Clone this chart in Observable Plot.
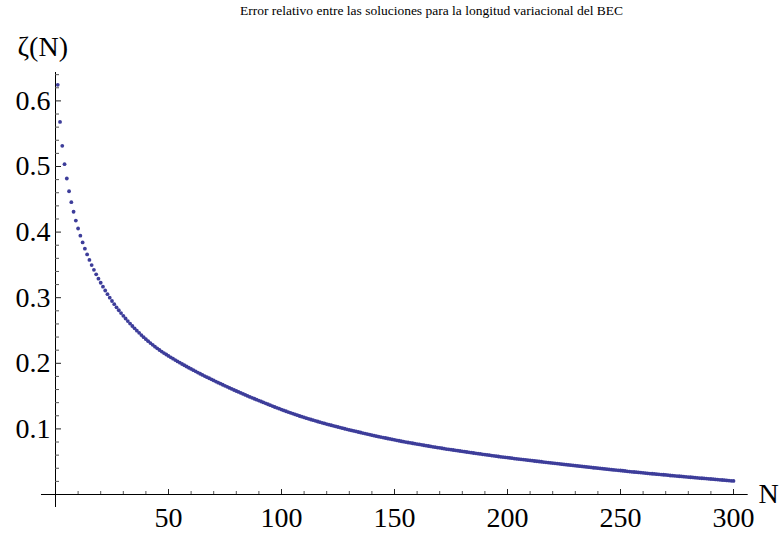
<!DOCTYPE html>
<html>
<head>
<meta charset="utf-8">
<script src="https://cdn.jsdelivr.net/npm/d3@7"></script>
<script src="https://cdn.jsdelivr.net/npm/@observablehq/plot@0.6"></script>
<style>
  body { margin: 0; background: #fff; }
  #chart { position: relative; width: 783px; height: 536px; }
  #title { position: absolute; top: 3px; left: 40px; width: 783px; text-align: center;
           font: 13.5px "Liberation Serif", "Times New Roman", serif; color: #000; }
</style>
</head>
<body>
<div id="chart"><div id="title">Error relativo entre las soluciones para la longitud variacional del BEC</div></div>
<script>
// ζ(N) values, N = 1 … 300
const zeta = [
  0.6245, 0.5680, 0.5315, 0.5035, 0.4817, 0.4623, 0.4456, 0.4310, 0.4176, 0.4055,
  0.3946, 0.3843, 0.3748, 0.3660, 0.3576, 0.3498, 0.3425, 0.3356, 0.3290, 0.3228,
  0.3168, 0.3110, 0.3054, 0.3001, 0.2950, 0.2901, 0.2854, 0.2809, 0.2766, 0.2724,
  0.2683, 0.2644, 0.2606, 0.2569, 0.2533, 0.2498, 0.2464, 0.2431, 0.2399, 0.2368,
  0.2338, 0.2309, 0.2281, 0.2254, 0.2228, 0.2203, 0.2179, 0.2156, 0.2134, 0.2113,
  0.2091, 0.2070, 0.2049, 0.2029, 0.2009, 0.1989, 0.1970, 0.1951, 0.1932, 0.1914,
  0.1895, 0.1877, 0.1859, 0.1841, 0.1823, 0.1806, 0.1789, 0.1772, 0.1755, 0.1739,
  0.1722, 0.1705, 0.1689, 0.1673, 0.1657, 0.1641, 0.1625, 0.1609, 0.1593, 0.1578,
  0.1563, 0.1548, 0.1533, 0.1518, 0.1503, 0.1488, 0.1474, 0.1460, 0.1446, 0.1432,
  0.1418, 0.1404, 0.1390, 0.1376, 0.1362, 0.1348, 0.1334, 0.1321, 0.1308, 0.1295,
  0.1282, 0.1269, 0.1257, 0.1245, 0.1233, 0.1221, 0.1209, 0.1197, 0.1186, 0.1175,
  0.1164, 0.1153, 0.1143, 0.1133, 0.1123, 0.1113, 0.1103, 0.1093, 0.1083, 0.1074,
  0.1065, 0.1056, 0.1047, 0.1038, 0.1029, 0.1020, 0.1011, 0.1002, 0.0993, 0.0985,
  0.0977, 0.0969, 0.0961, 0.0953, 0.0945, 0.0937, 0.0929, 0.0921, 0.0913, 0.0905,
  0.0897, 0.0889, 0.0882, 0.0875, 0.0868, 0.0861, 0.0854, 0.0847, 0.0840, 0.0833,
  0.0826, 0.0819, 0.0812, 0.0805, 0.0799, 0.0793, 0.0787, 0.0781, 0.0775, 0.0769,
  0.0763, 0.0757, 0.0751, 0.0745, 0.0739, 0.0733, 0.0727, 0.0721, 0.0716, 0.0711,
  0.0705, 0.0699, 0.0693, 0.0688, 0.0683, 0.0678, 0.0673, 0.0668, 0.0663, 0.0658,
  0.0653, 0.0648, 0.0643, 0.0638, 0.0633, 0.0628, 0.0623, 0.0618, 0.0613, 0.0609,
  0.0604, 0.0599, 0.0594, 0.0589, 0.0584, 0.0579, 0.0575, 0.0571, 0.0567, 0.0563,
  0.0558, 0.0553, 0.0548, 0.0544, 0.0540, 0.0536, 0.0532, 0.0528, 0.0524, 0.0520,
  0.0515, 0.0511, 0.0507, 0.0503, 0.0499, 0.0495, 0.0491, 0.0487, 0.0483, 0.0479,
  0.0475, 0.0471, 0.0467, 0.0463, 0.0459, 0.0455, 0.0451, 0.0447, 0.0443, 0.0440,
  0.0436, 0.0432, 0.0428, 0.0424, 0.0420, 0.0416, 0.0412, 0.0408, 0.0405, 0.0402,
  0.0398, 0.0394, 0.0390, 0.0386, 0.0382, 0.0378, 0.0375, 0.0372, 0.0369, 0.0366,
  0.0362, 0.0358, 0.0354, 0.0350, 0.0346, 0.0343, 0.0340, 0.0337, 0.0334, 0.0331,
  0.0327, 0.0323, 0.0319, 0.0316, 0.0313, 0.0310, 0.0307, 0.0304, 0.0301, 0.0298,
  0.0294, 0.0290, 0.0287, 0.0284, 0.0281, 0.0278, 0.0275, 0.0272, 0.0269, 0.0266,
  0.0263, 0.0260, 0.0257, 0.0254, 0.0251, 0.0248, 0.0245, 0.0242, 0.0239, 0.0236,
  0.0233, 0.0230, 0.0227, 0.0224, 0.0221, 0.0218, 0.0215, 0.0212, 0.0209, 0.0207
];
const nValues = zeta.map((_, i) => i + 1);

const xMajor = [50, 100, 150, 200, 250, 300];
const xMinor = [10, 20, 30, 40, 60, 70, 80, 90, 110, 120, 130, 140, 160, 170, 180, 190,
                210, 220, 230, 240, 260, 270, 280, 290];
const yMajor = [0.1, 0.2, 0.3, 0.4, 0.5, 0.6];
const yMajorLabels = ["0.1", "0.2", "0.3", "0.4", "0.5", "0.6"];
const yMinor = [0.02, 0.04, 0.06, 0.08, 0.12, 0.14, 0.16, 0.18, 0.22, 0.24, 0.26, 0.28,
                0.32, 0.34, 0.36, 0.38, 0.42, 0.44, 0.46, 0.48, 0.52, 0.54, 0.56, 0.58,
                0.62, 0.64];
const yAxisLabel = "ζ(N)";
const xAxisLabel = "N";

const table = nValues.map((n, i) => ({N: n, z: zeta[i]}));

const W = 783, H = 536;
const mL = 55, mR = 50, mT = 72, mB = 42;
const frameW = W - mL - mR, frameH = H - mT - mB;
const font = "'Liberation Serif', 'Times New Roman', serif";
const dotColor = "#3d3d9a";

const chart = Plot.plot({
  width: W, height: H,
  marginLeft: mL, marginRight: mR, marginTop: mT, marginBottom: mB,
  x: {domain: [0, 300]},
  y: {domain: [0, 0.6433]},
  style: {fontFamily: font, background: "transparent", color: "#000"},
  marks: [
    Plot.ruleY([0], {x1: -6.2, x2: 306.5, stroke: "#000", strokeWidth: 1}),
    Plot.ruleX([0], {y1: -0.0198, y2: 0.6433, stroke: "#000", strokeWidth: 1}),
    Plot.tickX(xMajor, {x: d => d, insetTop: frameH - 5, stroke: "#222"}),
    Plot.tickX(xMinor, {x: d => d, insetTop: frameH - 3, stroke: "#555"}),
    Plot.tickY(yMajor, {y: d => d, insetRight: frameW - 6, stroke: "#222"}),
    Plot.tickY(yMinor, {y: d => d, insetRight: frameW - 4, stroke: "#555"}),
    Plot.axisX({ticks: xMajor, tickSize: 0, tickPadding: 13, fontSize: 28, fontFamily: font, label: null}),
    Plot.axisY({ticks: yMajor, tickSize: 0, tickPadding: 5, fontSize: 28, fontFamily: font, label: null,
                tickFormat: d => yMajorLabels[yMajor.indexOf(d)]}),
    Plot.text([yAxisLabel], {text: d => d, frameAnchor: "top-left", dx: -38, dy: -36, textAnchor: "start",
                             fontSize: 28, fontFamily: font, fill: "#000"}),
    Plot.text([xAxisLabel], {text: d => d, frameAnchor: "bottom-right", dx: 25, dy: 8, textAnchor: "start",
                             fontSize: 28, fontFamily: font, fill: "#000"}),
    Plot.dot(table, {x: "N", y: "z", r: 1.9, fill: dotColor, stroke: "none"})
  ]
});
document.getElementById("chart").appendChild(chart);
chart.style.position = "absolute";
chart.style.left = "0";
chart.style.top = "0";
</script>
</body>
</html>
